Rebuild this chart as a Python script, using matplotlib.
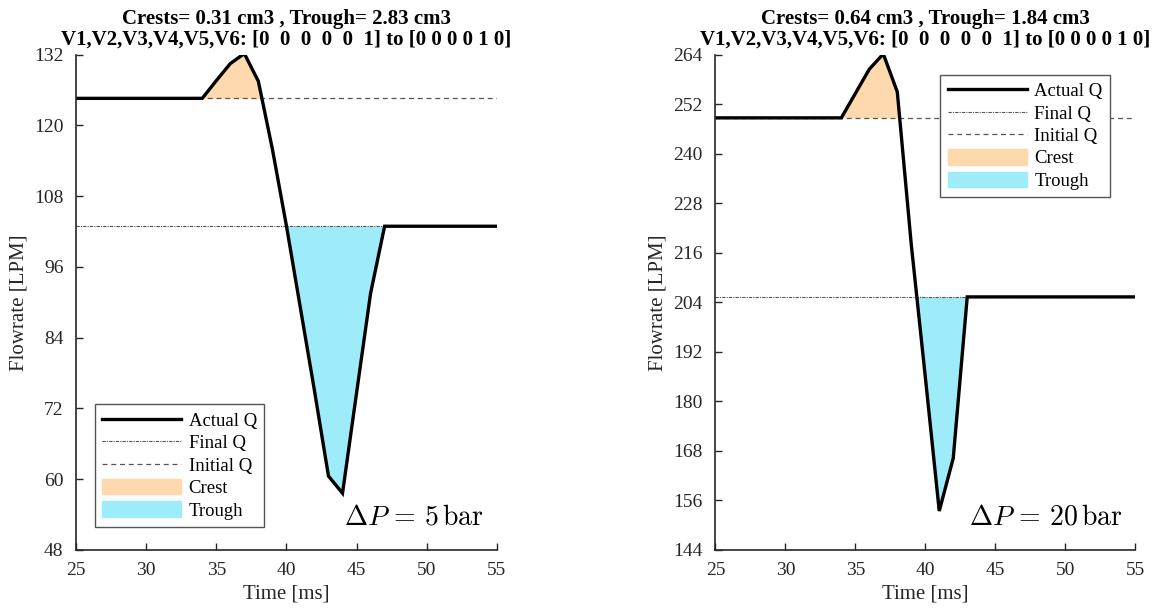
import matplotlib.pyplot as plt
from matplotlib.lines import Line2D
from matplotlib.patches import Patch

plt.rcParams['font.family'] = ['Liberation Serif', 'DejaVu Serif']
plt.rcParams['mathtext.fontset'] = 'cm'

# left case (dP = 5 bar)
time_5 = [25, 34, 35, 36, 37, 38, 39, 40, 41, 42, 43, 44, 45, 46, 47, 55]
flow_5 = [124.6, 124.6, 127.6, 130.5, 132.2, 127.5, 116.0, 103.0, 89.0,
          75.0, 60.5, 57.6, 74.6, 91.5, 102.9, 102.9]
initial_5 = 124.6
final_5 = 102.9

# right case (dP = 20 bar)
time_20 = [25, 34, 35, 36, 37, 38, 39, 40, 41, 42, 43, 55]
flow_20 = [248.7, 248.7, 254.6, 260.5, 264.2, 255.0, 218.0, 186.0, 153.4,
           166.2, 205.3, 205.3]
initial_20 = 248.7
final_20 = 205.3

titles = [
    'Crests= 0.31 cm3 , Trough= 2.83 cm3\n'
    'V1,V2,V3,V4,V5,V6: [0  0  0  0  0  1] to [0 0 0 0 1 0]',
    'Crests= 0.64 cm3 , Trough= 1.84 cm3\n'
    'V1,V2,V3,V4,V5,V6: [0  0  0  0  0  1] to [0 0 0 0 1 0]',
]
dp_labels = [r'$\Delta P\,=\,5\,\mathrm{bar}$', r'$\Delta P\,=\,20\,\mathrm{bar}$']
yticks_5 = list(range(48, 133, 12))
yticks_20 = list(range(144, 265, 12))
xticks = [25, 30, 35, 40, 45, 50, 55]

crest_color = '#FFD9AE'
trough_color = '#9EECFA'
axis_color = '#262626'

fig = plt.figure(figsize=(11.69, 6.15), dpi=100)
ax_left = fig.add_axes([0.065, 0.106, 0.360, 0.805])
ax_right = fig.add_axes([0.612, 0.106, 0.359, 0.805])

cases = [
    (ax_left, time_5, flow_5, initial_5, final_5, yticks_5,
     dict(loc='lower left', bbox_to_anchor=(0.045, 0.046))),
    (ax_right, time_20, flow_20, initial_20, final_20, yticks_20,
     dict(loc='upper right', bbox_to_anchor=(0.94, 0.96))),
]

for i, (ax, t, q, q0, qf, yt, leg_pos) in enumerate(cases):
    ax.fill_between(t, q, q0, where=[v >= q0 for v in q], interpolate=True,
                    color=crest_color, linewidth=0)
    ax.fill_between(t, q, qf, where=[v <= qf for v in q], interpolate=True,
                    color=trough_color, linewidth=0)
    ax.plot([t[0], t[-1]], [qf, qf], linestyle='-.', color='#555555',
            linewidth=0.8, dashes=(3, 1, 1, 1))
    ax.plot([t[0], t[-1]], [q0, q0], linestyle='--', color='#555555',
            linewidth=0.9, dashes=(4, 3))
    ax.plot(t, q, color='black', linewidth=2.4, solid_joinstyle='miter')

    ax.set_xlim(25, 55)
    ax.set_ylim(yt[0], yt[-1])
    ax.set_xticks(xticks)
    ax.set_yticks(yt)
    ax.spines['top'].set_visible(False)
    ax.spines['right'].set_visible(False)
    for s in ['left', 'bottom']:
        ax.spines[s].set_color(axis_color)
        ax.spines[s].set_linewidth(1.2)
    ax.tick_params(direction='in', length=5, width=1, colors=axis_color,
                   labelsize=14, labelcolor=axis_color)
    ax.tick_params(axis='x', pad=9)
    ax.tick_params(axis='y', pad=9)
    ax.set_xlabel('Time [ms]', fontsize=15, color=axis_color, labelpad=4)
    ax.set_ylabel('Flowrate [LPM]', fontsize=15, color=axis_color, labelpad=4)
    ax.set_title(titles[i], fontsize=15, fontweight='bold', pad=7,
                 linespacing=1.05)
    ax.text(0.97, 0.04, dp_labels[i], transform=ax.transAxes, ha='right',
            va='bottom', fontsize=20)

    handles = [
        Line2D([], [], color='black', linewidth=2.4),
        Line2D([], [], color='#555555', linestyle='-.', linewidth=0.8,
               dashes=(3, 1, 1, 1)),
        Line2D([], [], color='#555555', linestyle='--', linewidth=0.9,
               dashes=(4, 3)),
        Patch(color=crest_color),
        Patch(color=trough_color),
    ]
    leg = ax.legend(handles, ['Actual Q', 'Final Q', 'Initial Q', 'Crest', 'Trough'],
                    fontsize=13.5, fancybox=False, framealpha=1,
                    edgecolor='#555555', handlelength=4.2, handleheight=0.9,
                    labelspacing=0.22, borderpad=0.4, handletextpad=0.4,
                    borderaxespad=0, **leg_pos)
    leg.get_frame().set_linewidth(1.0)

plt.savefig('out.png', dpi=100)
plt.close()
